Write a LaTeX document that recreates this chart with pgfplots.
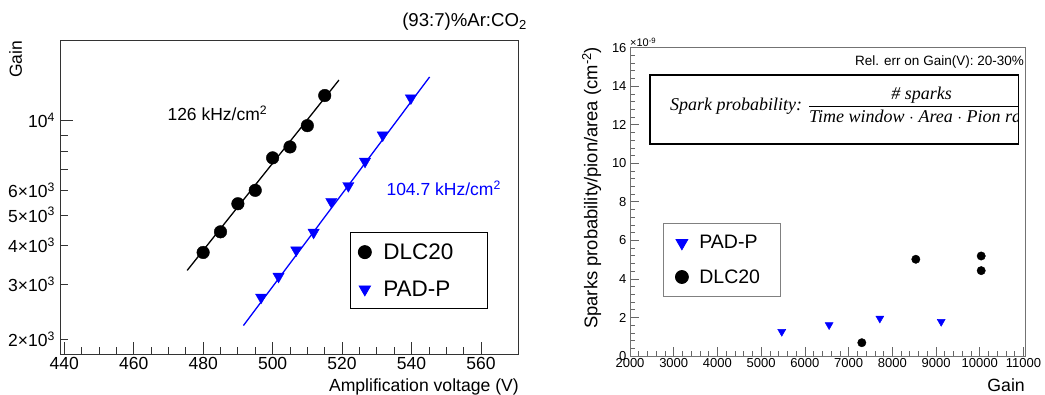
\documentclass[border=0pt]{standalone}
\usepackage{amsmath}
\usepackage{pgfplots}
\pgfplotsset{compat=1.18}
\usepackage{fontspec}
\setmainfont{Liberation Sans}
\newfontfamily\formfont{Liberation Serif}
\begin{document}
\begin{tikzpicture}
\path[use as bounding box] (0pt,0pt) rectangle (1045pt,394pt);
% ---------------- left panel ----------------
\begin{axis}[
  at={(60.9pt,40pt)}, anchor=south west, scale only axis,
  width=458pt, height=313.4pt,
  ymode=log, xmin=439.05, xmax=570.9, ymin=1800, ymax=18000,
  axis line style={black!80, line width=0.9pt},
  tick style={black!80, line width=0.8pt},
  tick pos=left, tick align=inside,
  major tick length=12pt, minor tick length=7pt,
  xtick={440,460,...,560}, minor x tick num=3,
  ytick={10000}, yticklabels={10\textsuperscript{4}},
  extra y ticks={2000,3000,4000,5000,6000},
  extra y tick labels={2×10\textsuperscript{3},3×10\textsuperscript{3},4×10\textsuperscript{3},5×10\textsuperscript{3},6×10\textsuperscript{3}},
  extra y tick style={major tick length=7pt},
  minor ytick={7000,8000,9000},
  ticklabel style={font=\fontsize{17.5}{18}\selectfont},
  yticklabel style={xshift=-2.5pt},
  /pgf/number format/assume math mode=true,
  legend image code/.code={\draw[#1] plot coordinates {(0pt,0pt)};},
  legend style={at={(0.631,0.389)}, anchor=north west, draw=black, line width=0.9pt, fill=white,
    font=\fontsize{22.5}{24}\selectfont, inner xsep=8pt, inner ysep=8pt, row sep=14pt, column sep=9pt,
    nodes={inner sep=3pt, text width=93pt, align=left}},
  legend cell align=left,
]
\addlegendimage{mark=*, mark size=6.5pt, black}
\addlegendentry{DLC20}
\addlegendimage{mark=triangle*, mark size=6.5pt, blue, mark options={rotate=180, fill=blue, draw=blue}}
\addlegendentry{PAD-P}
% fit lines
\addplot[black, line width=1.3pt, forget plot] coordinates {(475.4,3326) (519.1,13470)};
\addplot[blue, line width=1.3pt, forget plot] coordinates {(491.6,2218) (545.2,13780)};
% DLC20
\addplot[only marks, mark=*, mark size=6.3pt, black, forget plot] coordinates {
(480,3795) (485,4416) (490,5428) (495,5990) (500,7606) (505,8240) (510,9634) (515,12020)};
% PAD-P
\addplot[only marks, mark=triangle*, mark size=6.5pt, blue, mark options={rotate=180, fill=blue, draw=blue}, forget plot] coordinates {
(496.7,2729) (501.7,3183) (506.8,3863) (511.8,4397) (516.9,5510) (521.8,6195) (526.6,7410) (531.7,8990) (539.8,11800)};
\end{axis}
\node[anchor=base west, font=\fontsize{17.5}{18}\selectfont] at (164pt,273.3pt) {126 kHz/cm\textsuperscript{2}};
\node[anchor=base west, font=\fontsize{17.5}{18}\selectfont, text=blue] at (383pt,198pt) {104.7 kHz/cm\textsuperscript{2}};
\node[anchor=base east, font=\fontsize{18.6}{19}\selectfont, inner sep=0pt] at (527pt,367.3pt) {(93:7)\%Ar:CO\textsubscript{2}};
\node[rotate=90, anchor=east, inner sep=0pt, font=\fontsize{17.5}{18}\selectfont] at (15.7pt,353.4pt) {Gain};
\node[anchor=base east, inner sep=0pt, font=\fontsize{17.6}{18}\selectfont] at (519pt,2.5pt) {Amplification voltage (V)};
% ---------------- right panel ----------------
\begin{axis}[
  at={(630pt,38pt)}, anchor=south west, scale only axis,
  width=395.7pt, height=308.3pt,
  xmin=2000, xmax=11050, ymin=0, ymax=16,
  xtick={2000,3000,...,11000}, minor x tick num=4,
  ytick={0,2,...,16}, minor y tick num=4,
  tick pos=left, tick align=inside,
  major tick length=9pt, minor tick length=5pt,
  axis line style={black!55, line width=0.8pt},
  tick style={black!60, line width=0.7pt},
  ticklabel style={font=\fontsize{13}{14}\selectfont},
  xticklabel style={yshift=1.5pt},
  /pgf/number format/assume math mode=true,
  /pgf/number format/1000 sep={},
  scaled ticks=false,
  legend image code/.code={\draw[#1] plot coordinates {(0pt,0pt)};},
  legend style={at={(0.0834,0.431)}, anchor=north west, draw=black!50, line width=0.8pt, fill=white,
    font=\fontsize{19.5}{21}\selectfont, inner xsep=12pt, inner ysep=9pt, row sep=13pt, column sep=8pt,
    nodes={inner sep=3pt, text width=66pt, align=left}},
  legend cell align=left,
]
\addlegendimage{mark=triangle*, mark size=6.75pt, blue, mark options={rotate=180, fill=blue, draw=blue}}
\addlegendentry{PAD-P}
\addlegendimage{mark=*, mark size=6.5pt, black}
\addlegendentry{DLC20}
\addplot[only marks, mark=triangle*, mark size=4.6pt, blue, mark options={rotate=180, fill=blue, draw=blue}, forget plot] coordinates {
(5471,1.26) (6554,1.61) (7714,1.95) (9117,1.78)};
\addplot[only marks, mark=*, mark size=4.2pt, black, forget plot] coordinates {
(7302,0.69) (8537,5.02) (10032,5.19) (10032,4.43)};
\end{axis}
\node[anchor=base west, inner sep=0pt, font=\fontsize{11}{12}\selectfont] at (630pt,347pt) {×10\textsuperscript{-9}};
\node[anchor=base east, inner sep=0pt, font=\fontsize{13.5}{14}\selectfont] at (1024pt,328.3pt) {Rel. err on Gain(V): 20-30\%};
\draw[line width=1.1pt] (650pt,250pt) rectangle (1018.3pt,319pt);
\begin{scope}
\clip (650pt,240pt) rectangle (1018.3pt,330pt);
\node[anchor=base west, inner sep=0pt, font=\fontsize{18}{20}\formfont\itshape] at (670pt,283pt)
  {Spark probability: $\dfrac{\text{\# sparks}}{\text{Time window $\cdot$ Area $\cdot$ Pion rate}}$};
\end{scope}
\node[rotate=90, anchor=east, inner sep=0pt, font=\fontsize{18.4}{19}\selectfont] at (591.7pt,347.3pt) {Sparks probability/pion/area (cm\textsuperscript{-2})};
\node[anchor=base east, inner sep=0pt, font=\fontsize{17.7}{18}\selectfont] at (1025pt,2.3pt) {Gain};
\end{tikzpicture}
\end{document}
